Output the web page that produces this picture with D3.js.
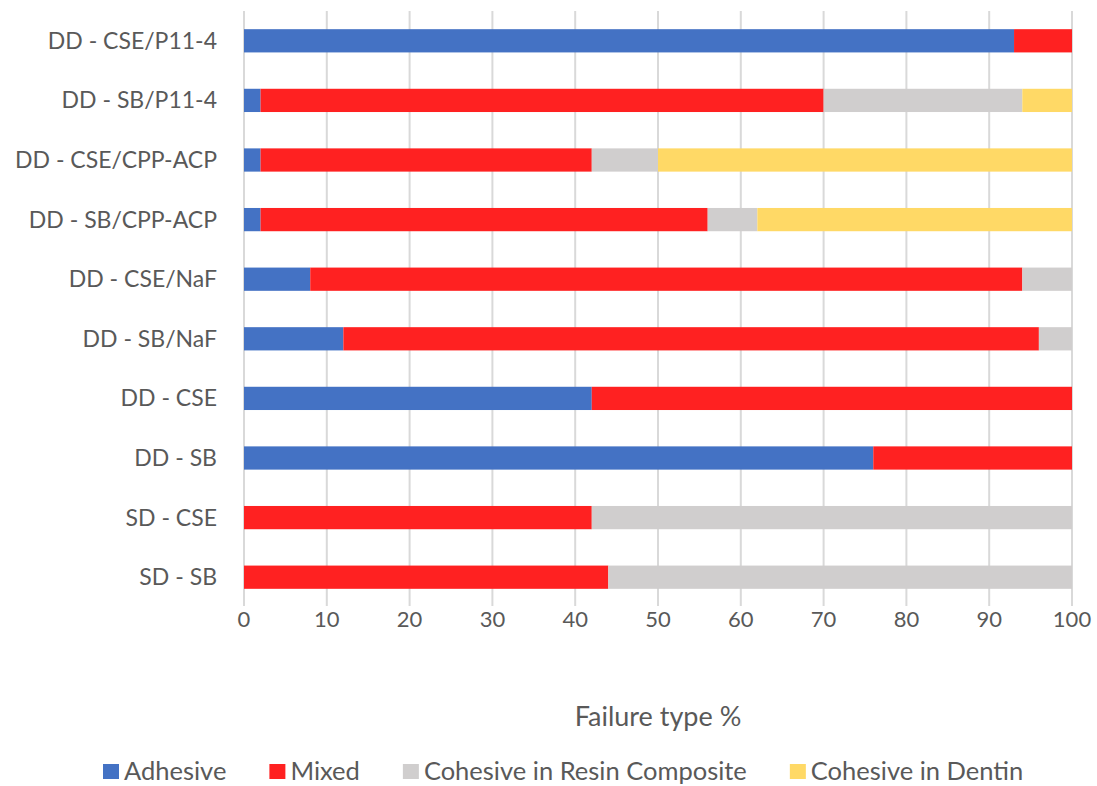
<!DOCTYPE html>
<html>
<head>
<meta charset="utf-8">
<script src="https://cdn.jsdelivr.net/npm/d3@7"></script>
<style>
    body { margin: 0; background: #fff; }
    text { font-family: Lato, "Open Sans", sans-serif; fill: #595959; }
</style>
</head>
<body>
<svg id="chart" width="1097" height="786"></svg>
<script>

// Data ////////////////////////////////////////

const categories = [
    "DD - CSE/P11-4", "DD - SB/P11-4", "DD - CSE/CPP-ACP", "DD - SB/CPP-ACP",
    "DD - CSE/NaF", "DD - SB/NaF", "DD - CSE", "DD - SB", "SD - CSE", "SD - SB"
];
const adhesive       = [93,  2,  2,  2,  8, 12, 42, 76,  0,  0];
const mixed          = [ 7, 68, 40, 54, 86, 84, 58, 24, 42, 44];
const cohesiveResin  = [ 0, 24,  8,  6,  6,  4,  0,  0, 58, 56];
const cohesiveDentin = [ 0,  6, 50, 38,  0,  0,  0,  0,  0,  0];
const xTicks = [0, 10, 20, 30, 40, 50, 60, 70, 80, 90, 100];

const series = ["Adhesive", "Mixed", "Cohesive in Resin Composite", "Cohesive in Dentin"];
const colors = ["#4472C4", "#FF2121", "#D0CECE", "#FFD966"];

const rows = categories.map((c, i) => ({
    cat: c,
    "Adhesive": adhesive[i],
    "Mixed": mixed[i],
    "Cohesive in Resin Composite": cohesiveResin[i],
    "Cohesive in Dentin": cohesiveDentin[i]
}));

// Layout //////////////////////////////////////

const svg = d3.select("#chart");
const plot = { left: 244, right: 1072, top: 11, bottom: 607 };

const x = d3.scaleLinear().domain([0, 100]).range([plot.left, plot.right]);
const y = d3.scaleBand().domain(categories).range([plot.top, plot.bottom])
    .paddingInner(0.61).paddingOuter(0.305);
const color = d3.scaleOrdinal().domain(series).range(colors);

// Gridlines
svg.append("g")
    .selectAll("line")
    .data(xTicks)
    .join("line")
    .attr("x1", d => x(d)).attr("x2", d => x(d))
    .attr("y1", plot.top).attr("y2", plot.bottom - 1)
    .attr("stroke", "#D9D9D9")
    .attr("stroke-width", 2);

// Bars
const stacked = d3.stack().keys(series)(rows);

svg.append("g")
    .selectAll("g")
    .data(stacked)
    .join("g")
    .attr("fill", d => color(d.key))
    .selectAll("rect")
    .data(d => d.filter(s => s[1] - s[0] > 0))
    .join("rect")
    .attr("x", d => x(d[0]))
    .attr("y", d => y(d.data.cat))
    .attr("width", d => x(d[1]) - x(d[0]))
    .attr("height", y.bandwidth());

// Axes ////////////////////////////////////////

svg.append("g")
    .selectAll("text")
    .data(categories)
    .join("text")
    .attr("x", plot.left - 27)
    .attr("y", d => y(d) + y.bandwidth() / 2)
    .attr("dy", "0.35em")
    .attr("text-anchor", "end")
    .style("font-size", "23px")
    .text(d => d);

svg.append("g")
    .selectAll("text")
    .data(xTicks)
    .join("text")
    .attr("x", d => x(d))
    .attr("y", 627)
    .attr("text-anchor", "middle")
    .style("font-size", "22px")
    .text(d => d);

svg.append("text")
    .attr("x", (plot.left + plot.right) / 2)
    .attr("y", 726)
    .attr("text-anchor", "middle")
    .style("font-size", "27px")
    .text("Failure type %");

// Legend //////////////////////////////////////

const legend = svg.append("g").attr("transform", "translate(103, 771)");
let lx = 0;
series.forEach(s => {
    const item = legend.append("g").attr("transform", `translate(${lx}, 0)`);
    item.append("rect")
        .attr("x", 0).attr("y", -7)
        .attr("width", 16).attr("height", 15)
        .attr("fill", color(s));
    const t = item.append("text")
        .attr("x", 21)
        .attr("dy", "0.35em")
        .style("font-size", "25.5px")
        .text(s);
    lx += 21 + t.node().getComputedTextLength() + 43;
});

</script>
</body>
</html>
